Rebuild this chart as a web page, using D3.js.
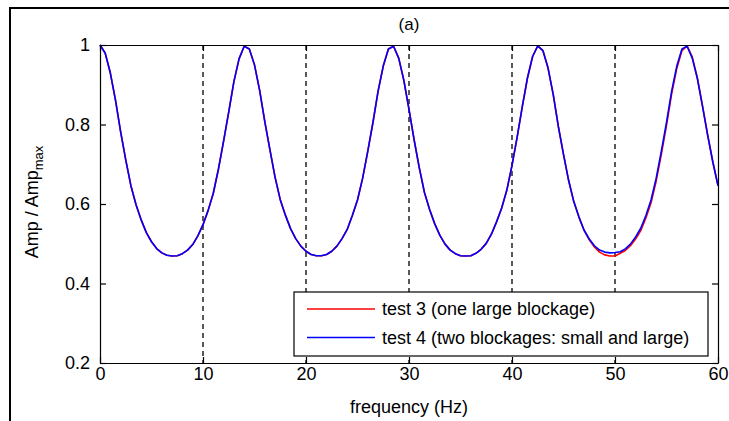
<!DOCTYPE html>
<html>
<head>
<meta charset="utf-8">
<script src="https://cdn.jsdelivr.net/npm/d3@7"></script>
<style>
  html, body { margin: 0; padding: 0; background: #fff; }
  svg { display: block; }
  text { font-family: "Liberation Sans", Arial, Helvetica, sans-serif; fill: #000; }
</style>
</head>
<body>
<script>
// ---- data ----
const freqs = [
  0,0.5,1,1.5,2,2.5,3,3.5,4,4.5,5,5.5,6,6.5,7,7.5,8,8.5,9,9.5,
  10,10.5,11,11.5,12,12.5,13,13.5,14,14.5,15,15.5,16,16.5,17,17.5,18,18.5,19,19.5,
  20,20.5,21,21.5,22,22.5,23,23.5,24,24.5,25,25.5,26,26.5,27,27.5,28,28.5,29,29.5,
  30,30.5,31,31.5,32,32.5,33,33.5,34,34.5,35,35.5,36,36.5,37,37.5,38,38.5,39,39.5,
  40,40.5,41,41.5,42,42.5,43,43.5,44,44.5,45,45.5,46,46.5,47,47.5,48,48.5,49,49.5,
  50,50.5,51,51.5,52,52.5,53,53.5,54,54.5,55,55.5,56,56.5,57,57.5,58,58.5,59,59.5,60
];
const test4 = [
  1.000,0.980,0.930,0.862,0.782,0.711,0.646,0.598,0.560,0.528,0.505,0.488,0.477,0.471,0.469,0.470,0.475,0.484,0.498,0.520,
  0.548,0.584,0.627,0.688,0.758,0.832,0.908,0.965,0.997,0.990,0.950,0.886,0.807,0.736,0.667,0.611,0.572,0.538,0.513,0.494,
  0.481,0.473,0.470,0.470,0.473,0.481,0.494,0.513,0.536,0.571,0.610,0.665,0.733,0.805,0.884,0.947,0.990,0.997,0.967,0.911,
  0.838,0.761,0.691,0.629,0.586,0.550,0.521,0.499,0.484,0.475,0.470,0.469,0.470,0.476,0.486,0.501,0.524,0.555,0.590,0.635,
  0.697,0.768,0.845,0.917,0.971,0.998,0.986,0.942,0.876,0.795,0.725,0.659,0.606,0.567,0.534,0.512,0.495,0.484,0.479,0.477,
  0.478,0.480,0.487,0.499,0.517,0.539,0.571,0.610,0.665,0.733,0.805,0.884,0.947,0.990,0.997,0.967,0.915,0.845,0.772,0.705,0.646
];
const test3 = [
  1.000,0.980,0.930,0.862,0.782,0.711,0.646,0.598,0.560,0.528,0.505,0.488,0.477,0.471,0.469,0.470,0.475,0.484,0.498,0.520,
  0.548,0.584,0.627,0.688,0.758,0.832,0.908,0.965,0.997,0.990,0.950,0.886,0.807,0.736,0.667,0.611,0.572,0.538,0.513,0.494,
  0.481,0.473,0.470,0.470,0.473,0.481,0.494,0.513,0.536,0.571,0.610,0.665,0.733,0.805,0.884,0.947,0.990,0.997,0.967,0.911,
  0.838,0.761,0.691,0.629,0.586,0.550,0.521,0.499,0.484,0.475,0.470,0.469,0.470,0.476,0.486,0.501,0.524,0.555,0.590,0.635,
  0.697,0.768,0.845,0.917,0.971,0.998,0.986,0.942,0.876,0.795,0.725,0.659,0.606,0.567,0.534,0.510,0.492,0.479,0.472,0.469,
  0.469,0.476,0.483,0.495,0.512,0.533,0.565,0.603,0.658,0.725,0.798,0.877,0.941,0.986,0.998,0.970,0.917,0.847,0.774,0.706,0.647
];
const xTicks = [0, 10, 20, 30, 40, 50, 60];
const yTicks = [0.2, 0.4, 0.6, 0.8, 1];
const markerFreqs = [10, 20, 30, 40, 50];
const seriesNames = ["test 3 (one large blockage)", "test 4 (two blockages: small and large)"];
const seriesColors = ["#ff0000", "#0000ff"];
const titleText = "(a)";
const xLabel = "frequency (Hz)";

// ---- layout ----
const W = 729, H = 421;
const L = 100, R = 718, T = 45, B = 363;

const svg = d3.select("body").append("svg").attr("width", W).attr("height", H);
svg.append("rect").attr("width", W).attr("height", H).attr("fill", "#fff");

// outer frame (top & left only visible)
svg.append("path").attr("d", `M10,${H} L10,8 L${W},8`)
  .attr("fill", "none").attr("stroke", "#000").attr("stroke-width", 2);

const x = d3.scaleLinear().domain([0, 60]).range([L, R]);
const y = d3.scaleLinear().domain([0.2, 1]).range([B, T]);

// dashed markers
svg.append("g").selectAll("line").data(markerFreqs).join("line")
  .attr("x1", d => x(d)).attr("x2", d => x(d))
  .attr("y1", T).attr("y2", B)
  .attr("stroke", "#000").attr("stroke-width", 1.3)
  .attr("stroke-dasharray", "5,4");

// curves
const line = d3.line().x((d, i) => x(freqs[i])).y(d => y(d));
[test3, test4].forEach((s, k) => {
  svg.append("path").datum(s).attr("d", line)
    .attr("fill", "none").attr("stroke", seriesColors[k])
    .attr("stroke-width", 1.6).attr("stroke-linejoin", "round");
});

// axes
const fs = 18;
const gx = svg.append("g").attr("transform", `translate(0,${B})`)
  .call(d3.axisBottom(x).tickValues(xTicks).tickFormat(d3.format("d"))
        .tickSizeInner(-6).tickSizeOuter(0).tickPadding(4));
const gy = svg.append("g").attr("transform", `translate(${L},0)`)
  .call(d3.axisLeft(y).tickValues(yTicks).tickFormat(d => d === 1 ? "1" : d3.format(".1f")(d))
        .tickSizeInner(-6).tickSizeOuter(0).tickPadding(10));
const gt = svg.append("g").attr("transform", `translate(0,${T})`)
  .call(d3.axisTop(x).tickValues(xTicks).tickFormat("").tickSizeInner(-6).tickSizeOuter(0));
const gr = svg.append("g").attr("transform", `translate(${R},0)`)
  .call(d3.axisRight(y).tickValues(yTicks).tickFormat("").tickSizeInner(-6).tickSizeOuter(0));
[gx, gy, gt, gr].forEach(g => {
  g.selectAll("path, line").attr("stroke", "#000").attr("stroke-width", 1.2);
  g.selectAll("text").attr("font-size", fs).attr("font-family", "Liberation Sans, Arial, sans-serif").attr("fill", "#000");
});

// title and labels
svg.append("text").attr("x", (L + R) / 2).attr("y", 30).attr("text-anchor", "middle")
  .attr("font-size", 17).text(titleText);
svg.append("text").attr("x", (L + R) / 2).attr("y", 413).attr("text-anchor", "middle")
  .attr("font-size", fs).text(xLabel);
const yl = svg.append("text").attr("transform", "translate(38,202) rotate(-90)")
  .attr("text-anchor", "middle").attr("font-size", fs);
yl.append("tspan").text("Amp / Amp");
yl.append("tspan").attr("dy", 5).attr("font-size", 13).text("max");

// legend
const lg = svg.append("g");
lg.append("rect").attr("x", 294).attr("y", 292).attr("width", 414).attr("height", 64)
  .attr("fill", "#fff").attr("stroke", "#000").attr("stroke-width", 1.2);
seriesNames.forEach((n, k) => {
  const yy = 309 + k * 28.5;
  lg.append("line").attr("x1", 307).attr("x2", 375).attr("y1", yy).attr("y2", yy)
    .attr("stroke", seriesColors[k]).attr("stroke-width", 1.6);
  lg.append("text").attr("x", 382).attr("y", yy + 6).attr("font-size", fs).text(n);
});
</script>
</body>
</html>
